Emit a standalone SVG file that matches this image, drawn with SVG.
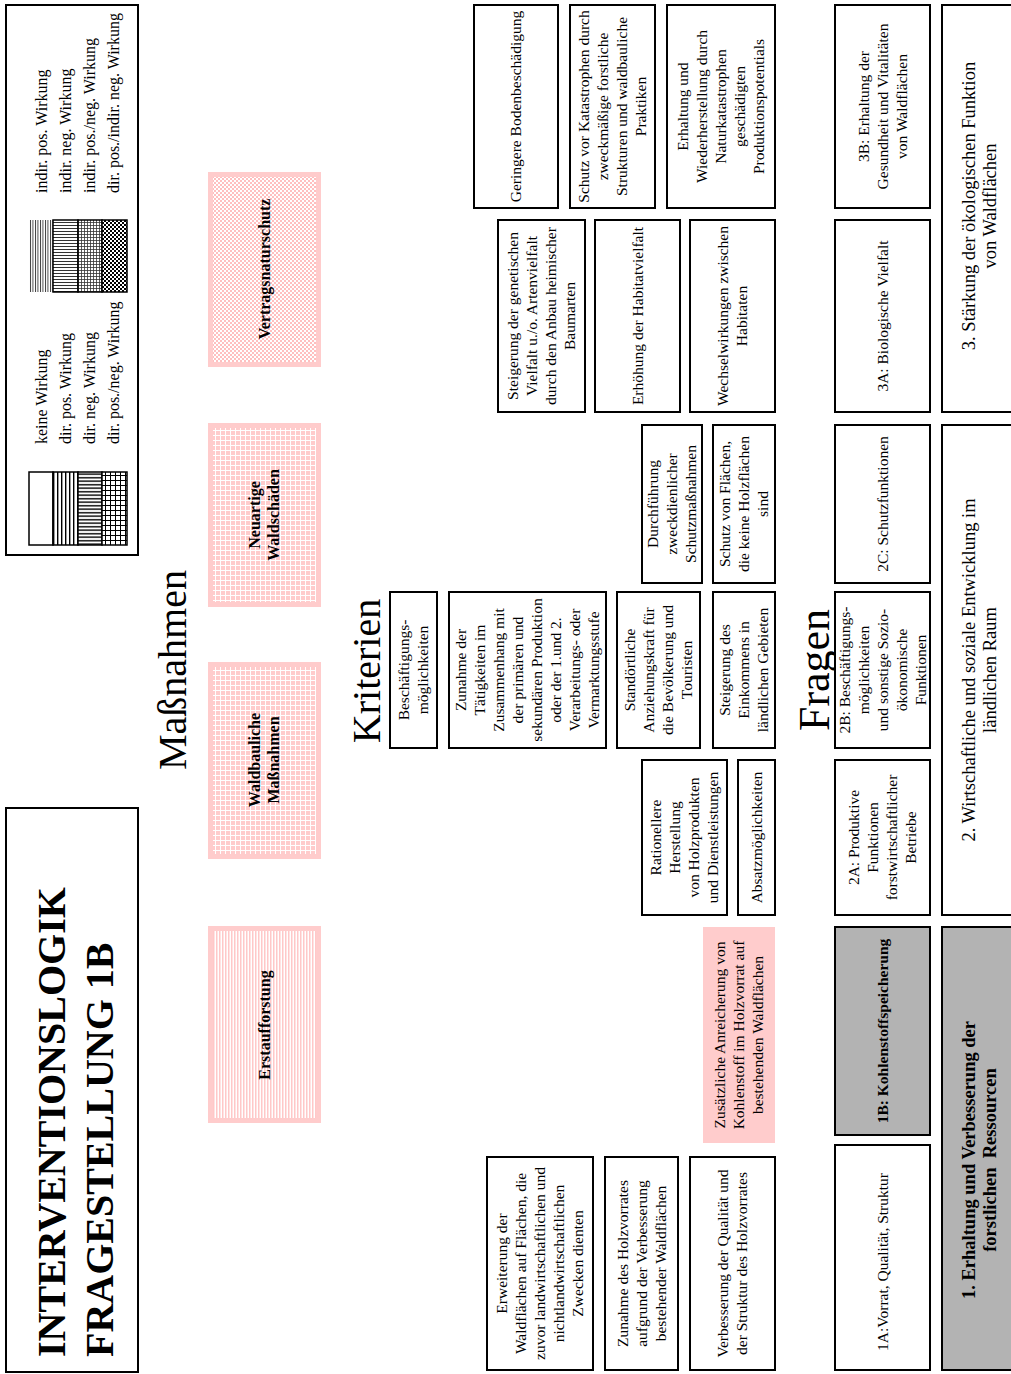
<svg xmlns="http://www.w3.org/2000/svg" width="1011" height="1374" viewBox="0 0 1011 1374">
<style>
.b{fill:#fff;stroke:#000;stroke-width:2}
.g{fill:#b3b3b3;stroke:#000;stroke-width:2}
.pk{stroke:#ffcccc;stroke-width:5}
.sw{stroke:#000;stroke-width:1.5}
text{font-family:"Liberation Serif","Times New Roman",serif;font-size:15.5px;fill:#000}
.t{text-anchor:middle}
.bd{font-weight:bold}
.h{font-size:40px}
.big{font-size:18.5px}
.lg{font-size:16px}
</style>
<defs>
<pattern id="dpos" width="4" height="4" patternUnits="userSpaceOnUse"><rect width="4" height="4" fill="#fff"/><rect x="1" width="1.4" height="4" fill="#000"/></pattern>
<pattern id="dneg" width="4" height="3.5" patternUnits="userSpaceOnUse"><rect width="4" height="3.5" fill="#fff"/><rect y="1" width="4" height="1.4" fill="#000"/></pattern>
<pattern id="dpn" width="5" height="5" patternUnits="userSpaceOnUse"><rect width="5" height="5" fill="#fff"/><path d="M0 0.5H5M0.5 0V5" stroke="#000" stroke-width="1"/></pattern>
<pattern id="ipos" width="2.5" height="4" patternUnits="userSpaceOnUse"><rect width="2.5" height="4" fill="#fff"/><rect width="0.9" height="4" fill="#333"/></pattern>
<pattern id="ineg" width="4" height="3" patternUnits="userSpaceOnUse"><rect width="4" height="3" fill="#fff"/><rect width="4" height="1" fill="#333"/></pattern>
<pattern id="ipn" width="3" height="3" patternUnits="userSpaceOnUse"><rect width="3" height="3" fill="#fff"/><path d="M0 0.5H3M0.5 0V3" stroke="#333" stroke-width="0.8"/></pattern>
<pattern id="chk" width="4" height="4" patternUnits="userSpaceOnUse"><rect width="4" height="4" fill="#fff"/><rect width="2" height="2" fill="#000"/><rect x="2" y="2" width="2" height="2" fill="#000"/></pattern>
<pattern id="kv" width="3" height="10" patternUnits="userSpaceOnUse"><rect width="3" height="10" fill="#fff"/><rect width="1.5" height="10" fill="#ffc8c8"/></pattern>
<pattern id="kg" width="5" height="5" patternUnits="userSpaceOnUse"><rect width="5" height="5" fill="#ffcccc"/><path d="M0 0.5H5M0.5 0V5" stroke="#fff" stroke-width="1"/></pattern>
<pattern id="kc" width="4" height="4" patternUnits="userSpaceOnUse"><rect width="4" height="4" fill="#fff"/><rect width="2" height="2" fill="#ffbfbf"/><rect x="2" y="2" width="2" height="2" fill="#ffbfbf"/></pattern>
</defs>
<rect width="1011" height="1374" fill="#fff"/>

<g id="title">
<rect class="b" x="6" y="808" width="132" height="564"/>
<text class="bd" style="font-size:40px" transform="translate(0,1357) rotate(-90)"><tspan x="0" y="65">INTERVENTIONSLOGIK</tspan><tspan x="0" y="113">FRAGESTELLUNG 1B</tspan></text>
</g>

<g id="legend">
<rect class="b" x="6" y="5" width="132" height="550"/>
<rect class="sw" x="29" y="472" width="24" height="73" fill="#fff"/>
<rect class="sw" x="53" y="472" width="25" height="73" fill="url(#dpos)"/>
<rect class="sw" x="78" y="472" width="24" height="73" fill="url(#dneg)"/>
<rect class="sw" x="102" y="472" width="25" height="73" fill="url(#dpn)"/>
<rect x="29" y="220" width="24" height="72" fill="url(#ipos)"/>
<rect class="sw" x="53" y="220" width="25" height="72" fill="url(#ineg)"/>
<rect class="sw" x="78" y="220" width="24" height="72" fill="url(#ipn)"/>
<rect class="sw" x="102" y="220" width="25" height="72" fill="url(#chk)"/>
<text class="lg" transform="translate(0,444) rotate(-90)"><tspan x="0" y="47">keine Wirkung</tspan><tspan x="0" y="71">dir. pos. Wirkung</tspan><tspan x="0" y="95">dir. neg. Wirkung</tspan><tspan x="0" y="119">dir. pos./neg. Wirkung</tspan></text>
<text class="lg" transform="translate(0,193) rotate(-90)"><tspan x="0" y="47">indir. pos. Wirkung</tspan><tspan x="0" y="71">indir. neg. Wirkung</tspan><tspan x="0" y="95">indir. pos./neg. Wirkung</tspan><tspan x="0" y="119">dir. pos./indir. neg. Wirkung</tspan></text>
</g>

<g id="headings">
<text class="t h" transform="translate(0,670) rotate(-90)"><tspan x="0" y="186">Maßnahmen</tspan></text>
<text class="t h" transform="translate(0,671) rotate(-90)"><tspan x="0" y="380">Kriterien</tspan></text>
<text class="t" style="font-size:44px" transform="translate(0,670) rotate(-90)"><tspan x="0" y="829">Fragen</tspan></text>
</g>

<g id="m-erstaufforstung">
<rect class="pk" x="210.5" y="928.5" width="108" height="192" fill="url(#kv)"/>
<text class="t bd" style="font-size:16px" transform="translate(0,1025) rotate(-90)"><tspan x="0" y="270">Erstaufforstung</tspan></text>
</g>
<g id="m-waldbauliche">
<rect class="pk" x="210.5" y="664.5" width="108" height="192" fill="url(#kg)"/>
<text class="t bd" style="font-size:16px" transform="translate(0,760) rotate(-90)"><tspan x="0" y="260">Waldbauliche</tspan><tspan x="0" y="279">Maßnahmen</tspan></text>
</g>
<g id="m-neuartige">
<rect class="pk" x="210.5" y="425.5" width="108" height="179" fill="url(#kg)"/>
<text class="t bd" style="font-size:16px" transform="translate(0,515) rotate(-90)"><tspan x="0" y="260">Neuartige</tspan><tspan x="0" y="279">Waldschäden</tspan></text>
</g>
<g id="m-vertragsnaturschutz">
<rect class="pk" x="210.5" y="174.5" width="108" height="190" fill="url(#kc)"/>
<text class="t bd" style="font-size:16px" transform="translate(0,269) rotate(-90)"><tspan x="0" y="270">Vertragsnaturschutz</tspan></text>
</g>

<g id="k-geringere">
<rect class="b" x="474" y="5" width="84" height="203"/>
<text class="t" transform="translate(0,106.5) rotate(-90)"><tspan x="0" y="521">Geringere Bodenbeschädigung</tspan></text>
</g>
<g id="k-schutzvor">
<rect class="b" x="570" y="5" width="85" height="203"/>
<text class="t" transform="translate(0,106.5) rotate(-90)"><tspan x="0" y="589">Schutz vor Katastrophen durch</tspan><tspan x="0" y="608">zweckmäßige forstliche</tspan><tspan x="0" y="627">Strukturen und waldbauliche</tspan><tspan x="0" y="646">Praktiken</tspan></text>
</g>
<g id="k-erhaltung">
<rect class="b" x="667" y="5" width="108" height="203"/>
<text class="t" transform="translate(0,106.5) rotate(-90)"><tspan x="0" y="688">Erhaltung und</tspan><tspan x="0" y="707">Wiederherstellung durch</tspan><tspan x="0" y="726">Naturkatastrophen</tspan><tspan x="0" y="745">geschädigten</tspan><tspan x="0" y="764">Produktionspotentials</tspan></text>
</g>
<g id="k-genetisch">
<rect class="b" x="498" y="220" width="87" height="192"/>
<text class="t" transform="translate(0,316) rotate(-90)"><tspan x="0" y="518">Steigerung der genetischen</tspan><tspan x="0" y="537">Vielfalt u./o. Artenvielfalt</tspan><tspan x="0" y="556">durch den Anbau heimischer</tspan><tspan x="0" y="575">Baumarten</tspan></text>
</g>
<g id="k-habitat">
<rect class="b" x="595" y="220" width="85" height="192"/>
<text class="t" transform="translate(0,316) rotate(-90)"><tspan x="0" y="642.5">Erhöhung der Habitatvielfalt</tspan></text>
</g>
<g id="k-wechsel">
<rect class="b" x="690" y="220" width="85" height="192"/>
<text class="t" transform="translate(0,316) rotate(-90)"><tspan x="0" y="728">Wechselwirkungen zwischen</tspan><tspan x="0" y="747">Habitaten</tspan></text>
</g>
<g id="k-durchfuehrung">
<rect class="b" x="642" y="425" width="60" height="158"/>
<text class="t" transform="translate(0,504) rotate(-90)"><tspan x="0" y="658">Durchführung</tspan><tspan x="0" y="677">zweckdienlicher</tspan><tspan x="0" y="696">Schutzmaßnahmen</tspan></text>
</g>
<g id="k-schutzflaechen">
<rect class="b" x="713" y="425" width="62" height="158"/>
<text class="t" transform="translate(0,504) rotate(-90)"><tspan x="0" y="730">Schutz von Flächen,</tspan><tspan x="0" y="749">die keine Holzflächen</tspan><tspan x="0" y="768">sind</tspan></text>
</g>
<g id="k-beschaeftigung">
<rect class="b" x="390" y="592" width="47" height="156"/>
<text class="t" transform="translate(0,670) rotate(-90)"><tspan x="0" y="409">Beschäftigungs-</tspan><tspan x="0" y="428">möglichkeiten</tspan></text>
</g>
<g id="k-zunahme">
<rect class="b" x="449" y="592" width="157" height="156"/>
<text class="t" transform="translate(0,670) rotate(-90)"><tspan x="0" y="466">Zunahme der</tspan><tspan x="0" y="485">Tätigkeiten im</tspan><tspan x="0" y="504">Zusammenhang mit</tspan><tspan x="0" y="523">der primären und</tspan><tspan x="0" y="542">sekundären Produktion</tspan><tspan x="0" y="561">oder der 1.und 2.</tspan><tspan x="0" y="580">Verarbeitungs- oder</tspan><tspan x="0" y="599">Vermarktungsstufe</tspan></text>
</g>
<g id="k-standort">
<rect class="b" x="617" y="592" width="83" height="156"/>
<text class="t" transform="translate(0,670) rotate(-90)"><tspan x="0" y="635">Standörtliche</tspan><tspan x="0" y="654">Anziehungskraft für</tspan><tspan x="0" y="673">die Bevölkerung und</tspan><tspan x="0" y="692">Touristen</tspan></text>
</g>
<g id="k-einkommen">
<rect class="b" x="713" y="592" width="62" height="156"/>
<text class="t" transform="translate(0,670) rotate(-90)"><tspan x="0" y="730">Steigerung des</tspan><tspan x="0" y="749">Einkommens in</tspan><tspan x="0" y="768">ländlichen Gebieten</tspan></text>
</g>
<g id="k-rationell">
<rect class="b" x="642" y="760" width="85" height="155"/>
<text class="t" transform="translate(0,837.5) rotate(-90)"><tspan x="0" y="661">Rationellere</tspan><tspan x="0" y="680">Herstellung</tspan><tspan x="0" y="699">von Holzprodukten</tspan><tspan x="0" y="718">und Dienstleistungen</tspan></text>
</g>
<g id="k-absatz">
<rect class="b" x="738" y="760" width="37" height="155"/>
<text class="t" transform="translate(0,837.5) rotate(-90)"><tspan x="0" y="762">Absatzmöglichkeiten</tspan></text>
</g>
<g id="k-kohlenstoff">
<rect x="703" y="927" width="72" height="216" fill="#ffcccc"/>
<text class="t" transform="translate(0,1035) rotate(-90)"><tspan x="0" y="725">Zusätzliche Anreicherung von</tspan><tspan x="0" y="744">Kohlenstoff im Holzvorrat auf</tspan><tspan x="0" y="763">bestehenden Waldflächen</tspan></text>
</g>
<g id="k-erweiterung">
<rect class="b" x="487" y="1157" width="106" height="213"/>
<text class="t" transform="translate(0,1263.5) rotate(-90)"><tspan x="0" y="507">Erweiterung der</tspan><tspan x="0" y="526">Waldflächen auf Flächen, die</tspan><tspan x="0" y="545">zuvor landwirtschaftlichen und</tspan><tspan x="0" y="564">nichtlandwirtschaftlichen</tspan><tspan x="0" y="583">Zwecken dienten</tspan></text>
</g>
<g id="k-holzvorrat">
<rect class="b" x="605" y="1157" width="73" height="213"/>
<text class="t" transform="translate(0,1263.5) rotate(-90)"><tspan x="0" y="627.5">Zunahme des Holzvorrates</tspan><tspan x="0" y="646.5">aufgrund der Verbesserung</tspan><tspan x="0" y="665.5">bestehender Waldflächen</tspan></text>
</g>
<g id="k-qualitaet">
<rect class="b" x="690" y="1157" width="85" height="213"/>
<text class="t" transform="translate(0,1263.5) rotate(-90)"><tspan x="0" y="728">Verbesserung der Qualität und</tspan><tspan x="0" y="747">der Struktur des Holzvorrates</tspan></text>
</g>

<g id="f-3b">
<rect class="b" x="835" y="5" width="95" height="203"/>
<text class="t" transform="translate(0,106.5) rotate(-90)"><tspan x="0" y="868.5">3B: Erhaltung der</tspan><tspan x="0" y="887.5">Gesundheit und Vitalitäten</tspan><tspan x="0" y="906.5">von Waldflächen</tspan></text>
</g>
<g id="f-3a">
<rect class="b" x="835" y="220" width="95" height="192"/>
<text class="t" transform="translate(0,316) rotate(-90)"><tspan x="0" y="887.5">3A: Biologische Vielfalt</tspan></text>
</g>
<g id="f-2c">
<rect class="b" x="835" y="425" width="95" height="158"/>
<text class="t" transform="translate(0,504) rotate(-90)"><tspan x="0" y="887.5">2C: Schutzfunktionen</tspan></text>
</g>
<g id="f-2b">
<rect class="b" x="835" y="592" width="95" height="156"/>
<text class="t" transform="translate(0,670) rotate(-90)"><tspan x="0" y="849.5">2B: Beschäftigungs-</tspan><tspan x="0" y="868.5">möglichkeiten</tspan><tspan x="0" y="887.5">und sonstige Sozio-</tspan><tspan x="0" y="906.5">ökonomische</tspan><tspan x="0" y="925.5">Funktionen</tspan></text>
</g>
<g id="f-2a">
<rect class="b" x="835" y="760" width="95" height="155"/>
<text class="t" transform="translate(0,837.5) rotate(-90)"><tspan x="0" y="859">2A: Produktive</tspan><tspan x="0" y="878">Funktionen</tspan><tspan x="0" y="897">forstwirtschaftlicher</tspan><tspan x="0" y="916">Betriebe</tspan></text>
</g>
<g id="f-1b">
<rect class="g" x="835" y="927" width="95" height="208"/>
<text class="t bd" transform="translate(0,1031) rotate(-90)"><tspan x="0" y="887.5">1B: Kohlenstoffspeicherung</tspan></text>
</g>
<g id="f-1a">
<rect class="b" x="835" y="1145" width="95" height="225"/>
<text class="t" transform="translate(0,1262) rotate(-90)"><tspan x="0" y="887.5">1A:Vorrat, Qualität, Struktur</tspan></text>
</g>
<g id="f-3">
<rect class="b" x="942" y="5" width="80" height="407"/>
<text class="t big" transform="translate(0,206) rotate(-90)"><tspan x="0" y="975">3. Stärkung der ökologischen Funktion</tspan><tspan x="0" y="996">von Waldflächen</tspan></text>
</g>
<g id="f-2">
<rect class="b" x="942" y="425" width="80" height="490"/>
<text class="t big" transform="translate(0,670) rotate(-90)"><tspan x="0" y="975">2. Wirtschaftliche und soziale Entwicklung im</tspan><tspan x="0" y="996">ländlichen Raum</tspan></text>
</g>
<g id="f-1">
<rect class="g" x="942" y="927" width="80" height="443"/>
<text class="t big bd" transform="translate(0,1160) rotate(-90)"><tspan x="0" y="975">1. Erhaltung und Verbesserung der</tspan><tspan x="0" y="996">forstlichen&#160; Ressourcen</tspan></text>
</g>
<g id="connectors"/>
</svg>
